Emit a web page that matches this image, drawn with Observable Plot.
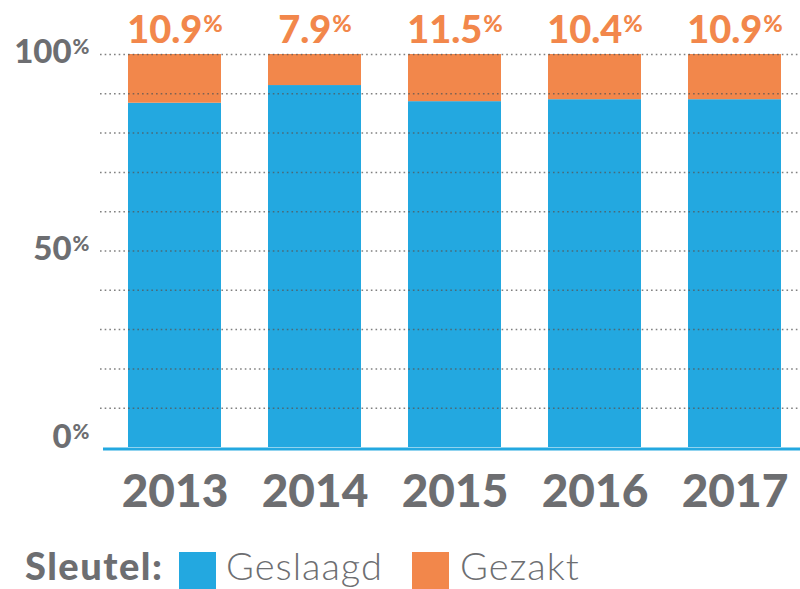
<!DOCTYPE html>
<html>
<head>
<meta charset="utf-8">
<script src="https://cdn.jsdelivr.net/npm/d3@7"></script>
<script src="https://cdn.jsdelivr.net/npm/@observablehq/plot@0.6"></script>
<style>
  html, body { margin: 0; padding: 0; background: #fff; overflow: hidden; width: 800px; height: 589px; }
  #chart svg { display: block; }
  #legend { position: relative; height: 49px; font-family: Lato, "Open Sans", sans-serif; color: #6d6e71; }
  #legend .title { position: absolute; left: 25px; top: 8px; font-size: 38px; font-weight: 900; line-height: 34px; letter-spacing: 1.5px; }
  #legend .sw { position: absolute; top: 12px; width: 37px; height: 37px; }
  #legend .lab { position: absolute; top: 8px; font-size: 38px; font-weight: 300; line-height: 34px; letter-spacing: 1px; }
</style>
</head>
<body>
<div id="chart"></div>
<div id="legend"></div>
<script>
const years = ["2013", "2014", "2015", "2016", "2017"];
const geslaagd = [87.6, 92.1, 88.0, 88.5, 88.5];
const gezakt = [12.4, 7.9, 12.0, 11.5, 11.5];
const gezaktLabels = ["10.9", "7.9", "11.5", "10.4", "10.9"];
const seriesNames = ["Geslaagd", "Gezakt"];
const seriesColors = ["#23a8e0", "#f2874b"];
const yLabelTicks = [0, 50, 100];
const gridTicks = [10, 20, 30, 40, 50, 60, 70, 80, 90, 100];
const legendTitle = "Sleutel:";

const gray = "#6d6e71";
const font = "Lato, 'Open Sans', sans-serif";

const rows = [];
years.forEach((y, i) => rows.push({year: y, series: seriesNames[0], value: geslaagd[i]}));
years.forEach((y, i) => rows.push({year: y, series: seriesNames[1], value: gezakt[i]}));
const labelRows = years.map((y, i) => ({year: y, label: gezaktLabels[i]}));

const plot = Plot.plot({
  width: 800,
  height: 540,
  marginTop: 54,
  marginBottom: 93,
  marginLeft: 100,
  marginRight: 0,
  style: {fontFamily: font, background: "#fff", overflow: "visible"},
  x: {domain: years, paddingInner: 0.336, paddingOuter: 0.168, align: 0.596, label: null},
  y: {domain: [0, 100], label: null, axis: null},
  color: {domain: seriesNames, range: seriesColors},
  marks: [
    Plot.barY(rows, {x: "year", y: "value", fill: "series"}),
    Plot.ruleY(gridTicks, {stroke: "#555", strokeOpacity: 0.75, strokeWidth: 1.5, strokeDasharray: "1.6 3.07"}),
    Plot.ruleY([0], {stroke: "#23a8e0", strokeWidth: 3, dy: 1.5, insetLeft: 3}),
    Plot.axisX({tickSize: 0, tickPadding: 27, fontSize: 46, fontWeight: 900, fill: gray, label: null}),
    Plot.text(yLabelTicks.filter(d => d > 0), {y: d => d, text: d => String(d), frameAnchor: "left", dx: -11, dy: -2, textAnchor: "end", fontSize: 33, fontWeight: 900, fill: gray}),
    Plot.text(yLabelTicks.filter(d => d === 0), {y: d => d, text: d => String(d), frameAnchor: "left", dx: -11, dy: -10, textAnchor: "end", fontSize: 33, fontWeight: 900, fill: gray}),
    Plot.text(labelRows, {x: "year", y: () => 100, text: "label", lineAnchor: "bottom", dy: -12, fontSize: 38, fontWeight: 900, fill: "#f2874b"})
  ]
});
document.getElementById("chart").appendChild(plot);

// superscript percent signs
function addSup(size) {
  d3.select(plot).selectAll('g[font-size="' + size + '"] text').each(function () {
    const t = d3.select(this);
    const small = size * 0.62;
    t.append("tspan")
      .attr("font-size", small)
      .attr("dx", "1px")
      .attr("dy", -(0.72 * size - 0.72 * small) + "px")
      .text("%");
  });
}
addSup(33);
addSup(38);

// legend
const lg = document.getElementById("legend");
const t = document.createElement("div");
t.className = "title"; t.textContent = legendTitle; lg.appendChild(t);
const swX = [179, 412];
const labX = [226, 460];
seriesNames.forEach((s, i) => {
  const sw = document.createElement("div");
  sw.className = "sw"; sw.style.left = swX[i] + "px"; sw.style.background = seriesColors[i];
  lg.appendChild(sw);
  const l = document.createElement("div");
  l.className = "lab"; l.style.left = labX[i] + "px"; l.textContent = s;
  lg.appendChild(l);
});
</script>
</body>
</html>
